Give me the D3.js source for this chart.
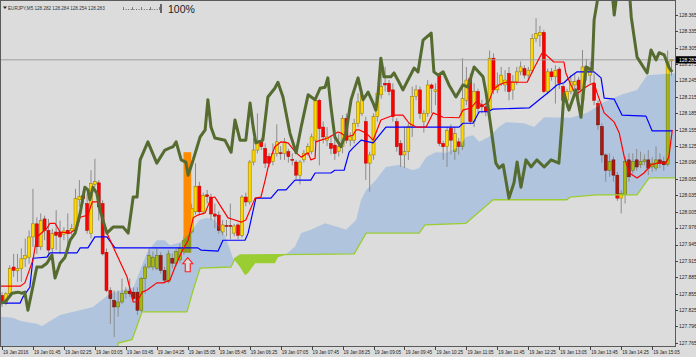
<!DOCTYPE html>
<html><head><meta charset="utf-8">
<script src="https://cdn.jsdelivr.net/npm/d3@7"></script>
<style>
html,body{margin:0;padding:0;background:#dcdcdc;overflow:hidden}
svg{display:block}
text{font-family:"Liberation Sans",Arial,sans-serif}
</style>
</head><body>
<svg id="c" width="696" height="357"></svg>
<script>
// ---------------- DATA ----------------
const symbolHeader = "EURJPY,M5 128.282 128.284 128.254 128.283";
const zoomLabel = "100%";
const opens=[127.852,127.837,127.855,127.904,127.897,127.901,127.919,127.922,127.959,127.983,
127.941,127.992,127.971,127.938,127.968,127.968,127.964,127.971,127.970,127.971,
128.027,128.035,128.020,127.965,128.055,128.058,128.020,127.931,127.861,127.843,
127.831,127.840,127.856,127.860,127.858,127.858,127.825,127.883,127.904,127.904,
127.901,127.925,127.898,127.877,127.920,127.911,127.917,127.932,127.947,127.968,
128.005,128.052,128.005,128.036,128.032,128.001,127.999,127.968,127.980,127.980,
127.966,127.981,127.962,128.032,128.023,128.096,128.118,128.136,128.121,128.106,
128.097,128.112,128.113,128.112,128.115,128.101,128.096,128.072,128.100,128.112,
128.115,128.136,128.209,128.160,128.136,128.130,128.127,128.115,128.124,128.176,
128.136,128.136,128.167,128.185,128.170,128.094,128.109,128.179,128.219,128.240,
128.240,128.228,128.170,128.130,128.109,128.115,128.161,128.216,128.228,128.170,
128.185,128.237,128.225,128.255,128.130,128.124,128.158,128.115,128.133,128.124,
128.209,128.249,128.170,128.225,128.200,128.197,128.191,128.286,128.228,128.240,
128.237,128.258,128.228,128.243,128.261,128.267,128.255,128.264,128.322,128.328,
128.333,128.225,128.261,128.252,128.266,128.234,128.209,128.225,128.237,128.246,
128.209,128.270,128.255,128.240,128.203,128.161,128.109,128.081,128.100,128.072,
128.030,128.036,128.100,128.081,128.100,128.091,128.097,128.100,128.087,128.085,
128.100,128.097,128.092,128.282];
const highs=[127.858,127.858,127.907,127.928,127.928,127.938,127.956,127.971,128.047,127.995,
128.002,127.998,127.992,127.974,128.008,127.989,127.977,128.002,127.983,128.047,
128.063,128.044,128.038,128.081,128.102,128.063,128.026,127.938,127.867,127.861,
127.861,127.883,127.867,127.883,127.867,127.867,127.886,127.910,127.938,127.932,
127.938,127.931,127.904,127.935,127.929,127.938,127.947,127.960,127.975,128.020,
128.094,128.060,128.040,128.045,128.038,128.020,128.006,127.990,127.990,128.020,
127.983,127.984,128.036,128.040,128.100,128.140,128.185,128.140,128.130,128.112,
128.130,128.165,128.125,128.140,128.120,128.112,128.100,128.100,128.118,128.130,
128.148,128.215,128.212,128.170,128.160,128.145,128.140,128.148,128.182,128.185,
128.150,128.175,128.222,128.228,128.179,128.115,128.185,128.228,128.286,128.270,
128.246,128.240,128.176,128.136,128.161,128.167,128.234,128.237,128.234,128.191,
128.246,128.240,128.240,128.258,128.135,128.160,128.165,128.160,128.140,128.286,
128.270,128.258,128.240,128.230,128.210,128.205,128.300,128.295,128.260,128.270,
128.264,128.270,128.255,128.270,128.280,128.273,128.270,128.330,128.359,128.345,
128.338,128.267,128.268,128.273,128.270,128.240,128.230,128.255,128.258,128.252,
128.301,128.285,128.280,128.258,128.209,128.167,128.112,128.112,128.106,128.078,
128.045,128.106,128.112,128.112,128.120,128.115,128.110,128.118,128.105,128.125,
128.112,128.106,128.300,128.284];
const lows=[127.831,127.834,127.852,127.886,127.877,127.877,127.904,127.910,127.941,127.928,
127.935,127.953,127.919,127.922,127.935,127.928,127.953,127.928,127.962,127.965,
128.014,128.020,127.965,127.956,128.050,127.989,127.925,127.858,127.800,127.776,
127.813,127.836,127.846,127.849,127.843,127.816,127.822,127.855,127.901,127.898,
127.898,127.892,127.874,127.874,127.902,127.905,127.911,127.926,127.941,127.965,
128.000,128.000,128.000,128.020,127.990,127.975,127.965,127.962,127.960,127.955,
127.960,127.955,127.958,128.015,128.018,128.090,128.112,128.118,128.085,128.087,
128.090,128.106,128.100,128.100,128.095,128.090,128.065,128.055,128.095,128.108,
128.110,128.130,128.090,128.130,128.125,128.110,128.100,128.106,128.112,128.130,
128.125,128.130,128.160,128.180,128.063,128.042,128.100,128.170,128.212,128.225,
128.218,128.170,128.115,128.087,128.085,128.100,128.142,128.209,128.175,128.150,
128.179,128.185,128.200,128.125,128.100,128.087,128.110,128.100,128.110,128.118,
128.200,128.165,128.160,128.185,128.185,128.180,128.185,128.220,128.222,128.235,
128.225,128.209,128.210,128.237,128.255,128.249,128.245,128.258,128.315,128.307,
128.222,128.220,128.245,128.203,128.230,128.200,128.195,128.220,128.215,128.209,
128.185,128.245,128.240,128.200,128.155,128.095,128.060,128.069,128.060,128.025,
128.002,128.020,128.060,128.075,128.080,128.085,128.090,128.072,128.078,128.080,
128.085,128.080,128.088,128.254];
const closes=[127.837,127.855,127.901,127.898,127.901,127.919,127.925,127.959,127.983,127.941,
127.989,127.971,127.935,127.965,127.962,127.959,127.970,127.965,127.974,128.029,
128.033,128.029,127.971,128.057,128.060,128.014,127.928,127.861,127.846,127.831,
127.840,127.856,127.860,127.855,127.846,127.825,127.883,127.904,127.925,127.922,
127.925,127.898,127.880,127.928,127.911,127.932,127.938,127.953,127.968,128.011,
128.051,128.005,128.035,128.033,128.001,127.997,127.971,127.981,127.979,127.979,
127.979,127.962,128.032,128.023,128.096,128.118,128.133,128.124,128.094,128.094,
128.112,128.133,128.112,128.133,128.106,128.100,128.072,128.096,128.112,128.124,
128.142,128.209,128.157,128.142,128.142,128.121,128.112,128.124,128.176,128.136,
128.142,128.167,128.206,128.219,128.094,128.109,128.179,128.222,128.234,128.237,
128.225,128.179,128.124,128.109,128.115,128.161,128.216,128.228,128.185,128.185,
128.237,128.231,128.228,128.130,128.124,128.154,128.136,128.148,128.124,128.212,
128.246,128.170,128.225,128.194,128.197,128.188,128.286,128.228,128.237,128.255,
128.246,128.225,128.243,128.261,128.270,128.255,128.264,128.322,128.331,128.333,
128.225,128.261,128.252,128.264,128.240,128.209,128.225,128.243,128.243,128.228,
128.270,128.264,128.264,128.209,128.164,128.109,128.081,128.097,128.072,128.030,
128.039,128.097,128.069,128.097,128.087,128.097,128.100,128.085,128.094,128.100,
128.094,128.091,128.280,128.283];

// indicator vertices: [bar index, price]
const tenkan=[[-0.5,127.869],[4.7,127.869],[5.9,127.875],[8,127.917],[9,127.959],[11.6,127.975],[12.4,127.984],[13.7,127.984],[15,127.968],[17.6,127.966],[19.4,127.975],[20.2,127.995],[22.2,127.999],[23.3,128.023],[24.8,128.023],[25.3,128.008],[27.1,127.966],[28.7,127.941],[32.3,127.886],[33.9,127.840],[34.9,127.840],[36.2,127.858],[37.5,127.862],[40,127.875],[41.6,127.875],[43.4,127.880],[44.7,127.904],[46.3,127.930],[48.1,127.953],[49.4,127.994],[50.6,127.999],[52.5,128.003],[54,128.030],[55,128.032],[56.6,128.014],[58.4,127.994],[60.2,127.990],[61.8,127.986],[63,127.990],[65.4,128.030],[66.9,128.032],[68,128.063],[68.7,128.085],[69.5,128.105],[70.5,128.124],[72.1,128.133],[73.9,128.131],[74.7,128.124],[76,128.113],[77.3,128.105],[79.1,128.113],[79.8,128.100],[80.9,128.103],[81.1,128.133],[82.4,128.136],[84.2,128.140],[86.8,128.151],[87.6,128.149],[88.9,128.142],[90.7,128.145],[91.5,128.155],[92.2,128.155],[94.1,128.149],[95.9,128.136],[97.9,128.173],[101.3,128.182],[103.6,128.182],[105.2,128.167],[107,128.160],[109.6,128.160],[111.4,128.186],[114,128.178],[118.1,128.177],[119.1,128.191],[121.2,128.195],[122.5,128.206],[124.3,128.200],[125.8,128.206],[126.9,128.228],[128.4,128.237],[130.2,128.242],[135.7,128.242],[137.5,128.268],[139.5,128.295],[140.6,128.292],[142.6,128.279],[145.2,128.279],[145.7,128.259],[147,128.237],[148.3,128.219],[150.4,128.231],[151.7,128.237],[153,128.241],[153.7,128.224],[155.6,128.186],[158.2,128.169],[159.5,128.149],[160.8,128.105],[162.1,128.076],[164.1,128.067],[165.9,128.076],[167.7,128.091],[169.3,128.094],[171.5,128.094],[172.3,128.105],[173.2,128.155]];
const kijun=[[-0.5,127.838],[4.7,127.838],[5.4,127.849],[7.2,127.867],[8,127.920],[11.6,127.922],[12.4,127.930],[19.4,127.930],[20.2,127.939],[22.2,127.939],[24,127.959],[27.1,127.959],[29.2,127.939],[50.6,127.939],[51.4,127.935],[55.8,127.933],[57.1,127.953],[62.8,127.953],[63.6,127.966],[65.6,128.030],[69.5,128.030],[71.3,128.045],[73.4,128.045],[75.7,128.063],[79.8,128.063],[80.9,128.076],[85,128.076],[86,128.081],[88.4,128.081],[89.7,128.114],[90.7,128.122],[92.8,128.136],[95.9,128.131],[99.2,128.160],[118.1,128.160],[119.1,128.167],[121.7,128.167],[123.3,128.188],[125.6,128.188],[126.9,128.193],[136.2,128.195],[141.3,128.224],[143.4,128.237],[145.2,128.241],[147,128.253],[148.6,128.261],[153,128.261],[154.8,128.250],[155.6,128.213],[158.2,128.211],[160.2,128.182],[166.4,128.180],[168,128.153],[173.2,128.153]];
const chikou=[[-0.5,127.838],[0.8,127.840],[2.6,127.856],[4.1,127.858],[5.2,127.856],[5.9,127.858],[6.7,127.825],[7.8,127.862],[9,127.904],[10.3,127.904],[11.6,127.911],[12.9,127.926],[13.7,127.884],[15,127.911],[16.3,127.922],[17.6,127.953],[18.9,127.966],[20.2,128.003],[21.4,128.050],[22.2,128.045],[22.7,128.027],[23.5,128.050],[24.5,128.039],[25.3,128.008],[27.1,127.966],[28.7,127.977],[31.3,127.977],[32.6,127.966],[33.9,128.032],[34.9,128.032],[35.7,128.100],[37.7,128.133],[40,128.094],[42.1,128.118],[43.4,128.122],[44.2,128.124],[45,128.133],[46.3,128.100],[47.5,128.096],[48.1,128.072],[49.4,128.100],[51.2,128.142],[52.5,128.155],[53.2,128.210],[54,128.160],[55,128.140],[57.6,128.136],[59.2,128.114],[60.2,128.173],[61.5,128.136],[63,128.136],[64.1,128.204],[64.9,128.160],[65.6,128.131],[67.4,128.136],[68.7,128.215],[70.5,128.231],[71.3,128.242],[72.6,128.215],[74.4,128.149],[76,128.113],[77.3,128.160],[79.1,128.219],[80.9,128.210],[82.2,128.231],[83.5,128.233],[84.2,128.250],[85,128.197],[86,128.142],[87.6,128.124],[88.9,128.149],[90.2,128.210],[92,128.250],[93.3,128.210],[94.6,128.224],[95.9,128.204],[96.6,128.191],[97.2,128.222],[97.9,128.286],[98.7,128.252],[100.5,128.252],[101.3,128.259],[102.6,128.242],[103.6,128.228],[104.9,128.246],[106.5,128.268],[107.5,128.261],[108.8,128.319],[110.9,128.332],[111.6,128.261],[112.7,128.255],[114,128.261],[115.5,128.237],[117.3,128.215],[119.1,128.237],[120.4,128.233],[122,128.270],[124.3,128.252],[125.1,128.222],[126.9,128.131],[127.6,128.094],[128.4,128.085],[129.5,128.091],[131,128.030],[132.3,128.058],[133.1,128.096],[134.1,128.050],[135.4,128.100],[136.7,128.087],[138.2,128.100],[140.1,128.087],[141.9,128.100],[143.9,128.094],[144.7,128.167],[145.2,128.222],[146.5,128.191],[148.3,128.228],[149.6,128.178],[150.9,128.270],[152.5,128.264],[153,128.356],[154.3,128.41],[157.6,128.41],[158.2,128.365],[159,128.41],[162.1,128.41],[162.6,128.361],[164.1,128.288],[166.7,128.259],[167.7,128.301],[169,128.283],[169.8,128.296],[171.1,128.292],[172.4,128.268],[173.2,128.261]];
const spanA=[[-0.5,127.813],[2.8,127.811],[5,127.805],[9,127.800],[10.3,127.796],[15,127.816],[23.5,127.831],[28,127.856],[34,127.867],[35.7,127.898],[37.5,127.931],[40,127.953],[42,127.953],[43.4,127.944],[46,127.949],[48.6,127.966],[51,127.990],[53,127.994],[55,127.990],[56.6,127.972],[57.6,127.962],[59.7,127.920],[61.5,127.904],[62.8,127.889],[63.6,127.893],[65.4,127.911],[70.5,127.911],[71.3,127.922],[73.1,127.926],[75.7,127.941],[77.3,127.966],[79.8,127.972],[83.5,127.984],[86.8,127.977],[88.9,127.972],[91.5,127.990],[92.8,128.027],[94.1,128.045],[96.6,128.063],[99.2,128.087],[102.6,128.091],[106.2,128.081],[107.8,128.085],[109.6,128.105],[112.1,128.114],[114.7,128.113],[116.5,128.118],[118.1,128.124],[119.9,128.142],[121.7,128.145],[123.3,128.133],[125.8,128.142],[128.4,128.160],[130.2,128.169],[134.9,128.167],[137.5,128.160],[140.1,128.178],[147,128.177],[151.2,128.186],[155.6,128.206],[160,128.219],[164.1,128.228],[166.7,128.255],[175,128.259]];
const spanB=[[-0.5,127.70],[29.5,127.70],[30,127.765],[33.6,127.771],[36.2,127.822],[47.8,127.822],[49.4,127.862],[51.2,127.902],[59.2,127.904],[60.2,127.920],[61.5,127.926],[91,127.928],[94.1,127.966],[107.8,127.966],[109.3,127.981],[119.9,127.984],[126.9,128.027],[146,128.027],[146.8,128.032],[153.7,128.036],[164.1,128.036],[167.2,128.067],[175,128.067]];

// annotations
const boxBars=[46.9,48.9], boxPrices=[127.930,128.114];
const arrowBar=48, arrowPrice=127.921;
const currentPrice=128.283;

// axis labels
const priceTicks=[128.365,128.335,128.305,128.275,128.245,128.215,128.185,128.155,128.125,128.096,128.065,128.035,128.005,127.976,127.945,127.915,127.885,127.855,127.825,127.796,127.765];
const timeTickBars=[0,8,16,24,32,40,48,56,64,72,80,88,96,104,112,120,128,136,144,152,160,168];
const timeLabels=["19 Jan 2016","19 Jan 01:45","19 Jan 02:25","19 Jan 03:05","19 Jan 03:45","19 Jan 04:25","19 Jan 05:05","19 Jan 05:45","19 Jan 06:25","19 Jan 07:05","19 Jan 07:45","19 Jan 08:25","19 Jan 09:05","19 Jan 09:45","19 Jan 10:25","19 Jan 11:05","19 Jan 11:45","19 Jan 12:25","19 Jan 13:05","19 Jan 13:45","19 Jan 14:25","19 Jan 15:05"];

// ---------------- DRAW ----------------
const svg=d3.select("#c");
const PL=0, PR=675, PT=0, PB=346;
const x=d3.scaleLinear().domain([0,173]).range([2,2+173*3.87]);
const y=d3.scaleLinear().domain([127.765,128.365]).range([343,15]);
const defs=svg.append("defs");

svg.append("rect").attr("width",696).attr("height",357).attr("fill","#dcdcdc");

defs.append("clipPath").attr("id","plot").append("rect")
  .attr("x",PL+1).attr("y",PT+1).attr("width",PR-PL-1).attr("height",PB-PT-1);

const toXY=p=>[x(p[0]),y(p[1])];
const line=d3.line();
const ptsA=spanA.map(toXY), ptsB=spanB.map(toXY);
const cloudD=line(ptsA.concat(ptsB.slice().reverse()))+"Z";
const xs0=x(-5), xs1=x(180);
const aboveB=line(ptsB.concat([[xs1,-100],[xs0,-100]]))+"Z";
const belowB=line(ptsB.concat([[xs1,500],[xs0,500]]))+"Z";
defs.append("clipPath").attr("id","aboveB").append("path").attr("d",aboveB);
defs.append("clipPath").attr("id","belowB").append("path").attr("d",belowB);
const mIn=defs.append("mask").attr("id","mIn").attr("maskUnits","userSpaceOnUse")
  .attr("x",0).attr("y",0).attr("width",696).attr("height",357);
mIn.append("path").attr("d",cloudD).attr("fill","#fff");
const mOut=defs.append("mask").attr("id","mOut").attr("maskUnits","userSpaceOnUse")
  .attr("x",0).attr("y",0).attr("width",696).attr("height",357);
mOut.append("rect").attr("width",696).attr("height",357).attr("fill","#fff");
mOut.append("path").attr("d",cloudD).attr("fill","#000");

const plot=svg.append("g").attr("clip-path","url(#plot)");

// cloud
plot.append("g").attr("clip-path","url(#aboveB)").append("path").attr("d",cloudD).attr("fill","#b0c4de");
plot.append("g").attr("clip-path","url(#belowB)").append("path").attr("d",cloudD).attr("fill","#9acd32");

// candles
const idx=d3.range(opens.length);
function candles(g,bull,bear,bullS,bearS){
  g.selectAll("line.w").data(idx).join("line").attr("class","w")
    .attr("x1",i=>x(i)).attr("x2",i=>x(i)).attr("y1",i=>y(highs[i])).attr("y2",i=>y(lows[i]))
    .attr("stroke","#8c8c8c").attr("stroke-width",1);
  g.selectAll("rect.b").data(idx).join("rect").attr("class","b")
    .attr("x",i=>x(i)-1.5).attr("width",3)
    .attr("y",i=>y(Math.max(opens[i],closes[i])))
    .attr("height",i=>Math.max(1,Math.abs(y(opens[i])-y(closes[i]))))
    .attr("fill",i=>closes[i]>=opens[i]?bull:bear)
    .attr("stroke",i=>closes[i]>=opens[i]?bullS:bearS).attr("stroke-width",0.5);
}
candles(plot.append("g").attr("mask","url(#mOut)"),"#ffd700","#ff0000","#8a7400","#b00000");
candles(plot.append("g").attr("mask","url(#mIn)"),"#a9b80f","#a81a10","#5f6a10","#6a1008");

// orange annotation box
const bx0=x(boxBars[0]), bx1=x(boxBars[1]), by0=y(boxPrices[1]), by1=y(boxPrices[0]);
plot.append("rect").attr("mask","url(#mOut)").attr("x",bx0).attr("y",by0).attr("width",bx1-bx0).attr("height",by1-by0).attr("fill","#ff8c00");
plot.append("rect").attr("mask","url(#mIn)").attr("x",bx0).attr("y",by0).attr("width",bx1-bx0).attr("height",by1-by0).attr("fill","#8e9a1c");

// current price line
plot.append("line").attr("x1",PL).attr("x2",PR).attr("y1",y(currentPrice)).attr("y2",y(currentPrice))
  .attr("stroke","#a0a0a0").attr("stroke-width",1);

// indicator lines
const drawLine=(data,color,w)=>plot.append("path").attr("d",line(data.map(toXY)))
  .attr("fill","none").attr("stroke",color).attr("stroke-width",w).attr("stroke-linejoin","round");
drawLine(spanB,"#9acd32",1.3);
drawLine(kijun,"#0000ff",1.2);
drawLine(tenkan,"#ff0000",1.2);
drawLine(chikou,"#556b2f",3);

// hollow up arrow
{
  const ax=x(arrowBar), ay=y(arrowPrice);
  const p=[[ax,ay],[ax+5,ay+6],[ax+2.5,ay+6],[ax+2.5,ay+14],[ax-2.5,ay+14],[ax-2.5,ay+6],[ax-5,ay+6]];
  plot.append("path").attr("d",line(p)+"Z").attr("fill","#dcdcdc").attr("stroke","#ff2020").attr("stroke-width",1.1);
}

// frame
svg.append("rect").attr("x",0.5).attr("y",0.5).attr("width",PR).attr("height",PB)
  .attr("fill","none").attr("stroke","#5a5a5a").attr("stroke-width",1);

// price axis
const pa=svg.append("g");
priceTicks.forEach(v=>{
  pa.append("line").attr("x1",PR).attr("x2",PR+3).attr("y1",Math.round(y(v))+0.5).attr("y2",Math.round(y(v))+0.5).attr("stroke","#444");
  pa.append("text").attr("x",PR+4).attr("y",y(v)).attr("dy","0.35em").attr("font-size",4.9).attr("fill","#222").text(v.toFixed(3));
});
pa.append("rect").attr("x",PR+1).attr("y",y(currentPrice)-3.6).attr("width",21).attr("height",7.2).attr("fill","#000");
pa.append("text").attr("x",PR+4).attr("y",y(currentPrice)).attr("dy","0.35em").attr("font-size",4.9).attr("fill","#fff").text(currentPrice.toFixed(3));

// time axis
const ta=svg.append("g");
timeTickBars.forEach((b,k)=>{
  ta.append("line").attr("x1",Math.round(x(b))+0.5).attr("x2",Math.round(x(b))+0.5).attr("y1",PB).attr("y2",PB+4).attr("stroke","#444");
  ta.append("text").attr("x",x(b)+1).attr("y",353.5).attr("font-size",4.6).attr("fill","#222").text(timeLabels[k]);
});

// header
svg.append("path").attr("d","M3,6.5L7,6.5L5,9Z").attr("fill","#222");
svg.append("text").attr("x",8).attr("y",10).attr("font-size",4.6).attr("fill","#333").text(symbolHeader);
svg.append("line").attr("x1",123).attr("x2",159).attr("y1",9.5).attr("y2",9.5).attr("stroke","#666").attr("stroke-dasharray","1,1.6");
[123,132,141,150,159].forEach(t=>svg.append("line").attr("x1",t+0.5).attr("x2",t+0.5).attr("y1",7).attr("y2",10).attr("stroke","#666").attr("stroke-width",0.8));
svg.append("line").attr("x1",161).attr("x2",161).attr("y1",4).attr("y2",13).attr("stroke","#333").attr("stroke-width",1.4);
svg.append("text").attr("x",168).attr("y",12.5).attr("font-size",10.5).attr("fill","#222").text(zoomLabel);
</script>
</body></html>
